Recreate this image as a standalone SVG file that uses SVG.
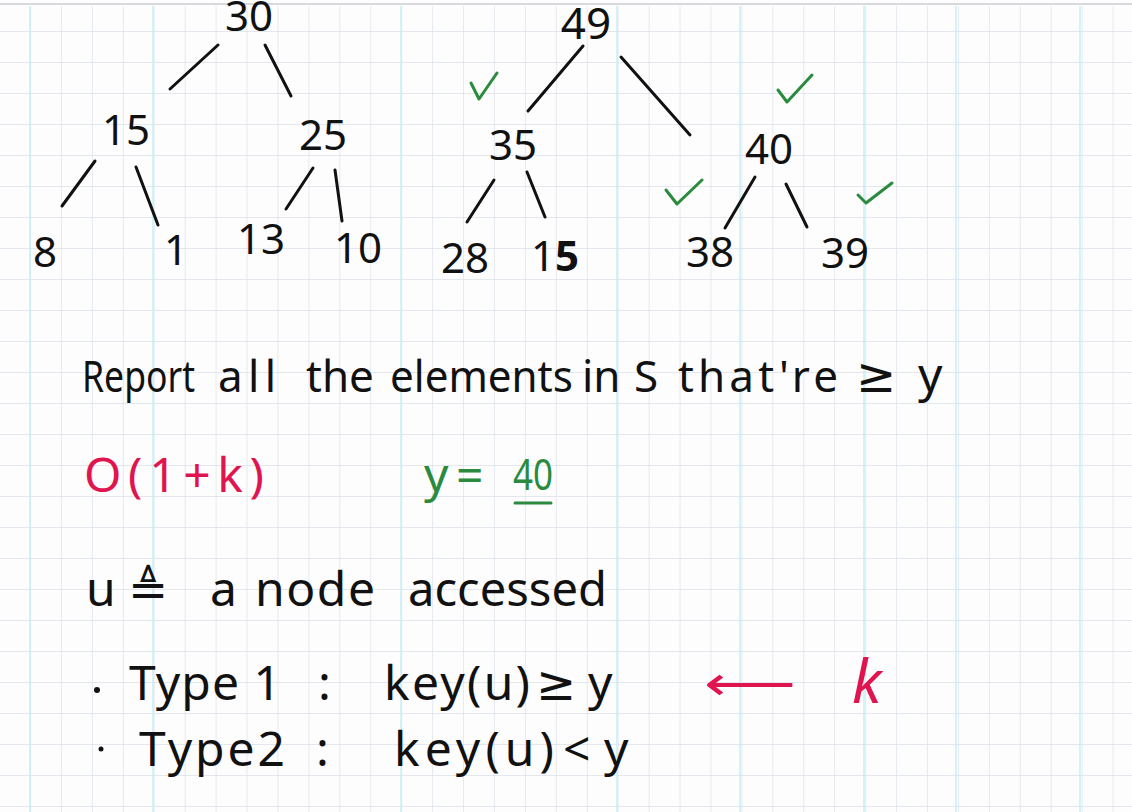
<svg xmlns="http://www.w3.org/2000/svg" width="1132" height="812" viewBox="0 0 1132 812">
<defs>
<style>
.g{stroke:#dcdfe9;stroke-width:1.3}
.c{stroke:#c6eff6;stroke-width:1.5}
.t{font-family:"Noto Sans","DejaVu Sans",sans-serif;fill:#111}
.num{font-size:42px;text-anchor:middle}
.big{font-size:48px}
.mid{font-size:44px}
.red{fill:#e0144e}
.grn{fill:#2a8a3e}
.e{stroke:#111;stroke-width:3;stroke-linecap:round;fill:none}
.chk{stroke:#2a8a3e;stroke-width:3;stroke-linecap:round;stroke-linejoin:round;fill:none}
</style>
<pattern id="grid" x="30" y="1" width="30.93" height="31" patternUnits="userSpaceOnUse">
<path d="M0 0V31M0 31H30.93" class="g" fill="none"/>
</pattern>
</defs>
<rect width="1132" height="812" fill="#fdfdfe"/>
<rect x="0" y="6" width="1132" height="806" fill="url(#grid)"/>
<g id="cyan">
<line x1="30" y1="6" x2="30" y2="812" class="c"/>
<line x1="153" y1="6" x2="153" y2="812" class="c"/>
<line x1="401" y1="6" x2="401" y2="812" class="c"/>
<line x1="617" y1="6" x2="617" y2="812" class="c"/>
<line x1="740" y1="6" x2="740" y2="812" class="c"/>
<line x1="864" y1="6" x2="864" y2="812" class="c"/>
<line x1="956" y1="6" x2="956" y2="812" class="c"/>
<line x1="1080" y1="6" x2="1080" y2="812" class="c"/>
</g>
<line x1="0" y1="4" x2="1132" y2="4" stroke="#d8d8dc" stroke-width="2"/>

<g id="connectors">
<line class="e" x1="218" y1="45" x2="170" y2="89"/>
<line class="e" x1="265" y1="45" x2="291" y2="96"/>
<line class="e" x1="95" y1="161" x2="62" y2="206"/>
<line class="e" x1="136" y1="167" x2="158" y2="225"/>
<line class="e" x1="313" y1="168" x2="286" y2="209"/>
<line class="e" x1="335" y1="170" x2="342" y2="221"/>
<line class="e" x1="583" y1="46" x2="528" y2="111"/>
<line class="e" x1="621" y1="57" x2="690" y2="135"/>
<line class="e" x1="494" y1="180" x2="467" y2="222"/>
<line class="e" x1="527" y1="172" x2="545" y2="217"/>
<line class="e" x1="755" y1="177" x2="725" y2="228"/>
<line class="e" x1="786" y1="184" x2="807" y2="227"/>
</g>

<g id="n30"><text class="t num" x="249" y="31">30</text></g>
<g id="n15"><text class="t num" x="126" y="145">15</text></g>
<g id="n25"><text class="t num" x="323" y="150">25</text></g>
<g id="n8"><text class="t num" x="45" y="267">8</text></g>
<g id="n1"><text class="t num" x="176" y="265">1</text></g>
<g id="n13"><text class="t num" x="261" y="254">13</text></g>
<g id="n10"><text class="t num" x="358" y="263">10</text></g>

<g id="n49"><text class="t num" x="586" y="39" style="font-size:44px">49</text></g>
<g id="n35"><text class="t num" x="513" y="160">35</text></g>
<g id="n40"><text class="t num" x="769" y="164">40</text></g>
<g id="n28"><text class="t num" x="465" y="273">28</text></g>
<g id="n15b"><text class="t num" x="555" y="271">1<tspan font-weight="bold">5</tspan></text></g>
<g id="n38"><text class="t num" x="710" y="267">38</text></g>
<g id="n39"><text class="t num" x="845" y="268">39</text></g>

<g id="checks">
<path class="chk" d="M471 83 L479 99 L497 73"/>
<path class="chk" d="M778 90 L787 102 L812 75"/>
<path class="chk" d="M666 190 L677 204 L702 180"/>
<path class="chk" d="M858 195 L866 203 L892 183"/>
</g>

<g id="line1">
<text class="t mid" x="82" y="392" textLength="113" lengthAdjust="spacingAndGlyphs">Report</text>
<text class="t mid" x="218" y="392" textLength="58">all</text>
<text class="t mid" x="306" y="392">the</text>
<text class="t mid" x="390" y="392" textLength="183" lengthAdjust="spacingAndGlyphs">elements</text>
<text class="t mid" x="582" y="392">in</text>
<text class="t mid" x="634" y="392">S</text>
<text class="t mid" x="678" y="392" textLength="160">that're</text>
<text class="t big" x="856" y="392">≥</text>
<text class="t big" x="918" y="392">y</text>
</g>

<g id="line2">
<text class="t big red" x="84" y="492" textLength="180">O(1+k)</text>
<text class="t big grn" x="424" y="492">y</text>
<text class="t big grn" x="456" y="492">=</text>
<text class="t mid grn" x="513" y="490" textLength="40" lengthAdjust="spacingAndGlyphs">40</text>
<line x1="515" y1="503" x2="551" y2="503" stroke="#2a8a3e" stroke-width="3" stroke-linecap="round"/>
</g>

<g id="line3">
<text class="t big" x="86" y="606">u</text>
<text class="t big" x="128" y="606">≜</text>
<text class="t big" x="210" y="606">a</text>
<text class="t big" x="255" y="606" textLength="120">node</text>
<text class="t big" x="408" y="606" textLength="199" lengthAdjust="spacingAndGlyphs">accessed</text>
</g>

<g id="line4">
<circle cx="97" cy="690" r="3" fill="#111"/>
<text class="t big" x="129" y="700" textLength="152">Type 1</text>
<text class="t big" x="318" y="700">:</text>
<text class="t big" x="384" y="700" textLength="146">key(u)</text>
<text class="t big" x="536" y="700">≥</text>
<text class="t big" x="588" y="700">y</text>
<text class="t big red" x="704" y="700" textLength="92" lengthAdjust="spacingAndGlyphs">⟵</text>
<text class="t red" x="852" y="703" font-style="italic" font-size="60">k</text>
</g>

<g id="line5">
<circle cx="101" cy="749" r="2.5" fill="#111"/>
<text class="t big" x="139" y="766" textLength="146">Type2</text>
<text class="t big" x="316" y="766">:</text>
<text class="t big" x="394" y="766" textLength="160">key(u)</text>
<text class="t big" x="563" y="766">&lt;</text>
<text class="t big" x="604" y="766">y</text>
</g>
</svg>
